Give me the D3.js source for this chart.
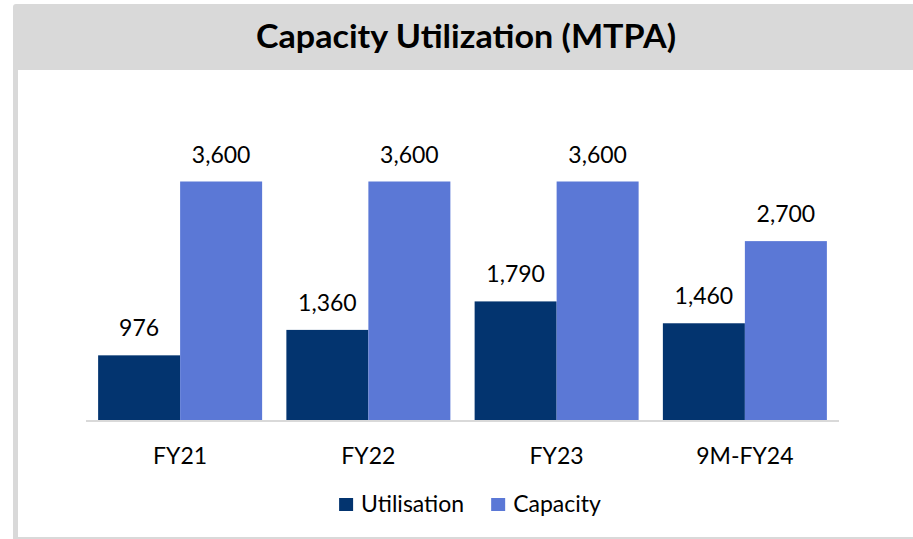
<!DOCTYPE html>
<html>
<head>
<meta charset="utf-8">
<script src="https://cdn.jsdelivr.net/npm/d3@7"></script>
<style>
  body { margin: 0; background: #fff; }
  text { font-family: Lato, "Open Sans", sans-serif; fill: #000; }
</style>
</head>
<body>
<div id="chart"></div>
<script>
const w = 913;
const h = 539;
const categories = ["FY21", "FY22", "FY23", "9M-FY24"];
const seriesNames = ["Utilisation", "Capacity"];
const utilisation = [976, 1360, 1790, 1460];
const capacity = [3600, 3600, 3600, 2700];
const colors = ["#03346f", "#5b78d6"];
const title = "Capacity Utilization (MTPA)";

const baseY = 420;

let svg = d3.select("#chart")
    .append("svg")
    .attr("width", w)
    .attr("height", h);

// grey frame + header band
svg.append("rect")
    .attr("x", 13).attr("y", 4)
    .attr("width", 912).attr("height", 540)
    .attr("rx", 3)
    .attr("fill", "#d9d9d9");

svg.append("rect")
    .attr("x", 18).attr("y", 70)
    .attr("width", 900).attr("height", 467)
    .attr("fill", "#ffffff");

svg.append("text")
    .attr("x", 466)
    .attr("y", 47.5)
    .attr("text-anchor", "middle")
    .style("font-size", "32px")
    .style("font-weight", "bold")
    .attr("textLength", 420)
    .attr("lengthAdjust", "spacingAndGlyphs")
    .text(title);

var x = d3.scaleBand()
    .domain(categories)
    .range([86, 839])
    .paddingInner(0.1288)
    .paddingOuter(0.0644);

var xInner = d3.scaleBand()
    .domain(seriesNames)
    .range([0, x.bandwidth()]);

var y = d3.scaleLinear()
    .domain([0, 4000])
    .range([baseY, 155]);

const rows = categories.map((c, i) => ({
    cat: c,
    vals: [utilisation[i], capacity[i]]
}));

const groups = svg.selectAll(".grp")
    .data(rows)
    .enter().append("g")
    .attr("class", "grp")
    .attr("transform", d => "translate(" + x(d.cat) + ",0)");

groups.selectAll("rect")
    .data(d => d.vals.map((v, j) => ({ name: seriesNames[j], v: v, j: j })))
    .enter().append("rect")
    .attr("x", d => xInner(d.name))
    .attr("y", d => y(d.v))
    .attr("width", xInner.bandwidth())
    .attr("height", d => y(0) - y(d.v))
    .attr("fill", d => colors[d.j]);

groups.selectAll(".val")
    .data(d => d.vals.map((v, j) => ({ name: seriesNames[j], v: v, j: j })))
    .enter().append("text")
    .attr("class", "val")
    .attr("x", d => xInner(d.name) + xInner.bandwidth() / 2)
    .attr("y", d => y(d.v) - 19)
    .attr("text-anchor", "middle")
    .style("font-size", "23px")
    .text(d => d3.format(",")(d.v));

// baseline
svg.append("line")
    .attr("x1", 86).attr("x2", 839)
    .attr("y1", baseY + 1).attr("y2", baseY + 1)
    .attr("stroke", "#d9d9d9")
    .attr("stroke-width", 2);

// category labels
svg.selectAll(".cat")
    .data(categories)
    .enter().append("text")
    .attr("class", "cat")
    .attr("x", d => x(d) + x.bandwidth() / 2)
    .attr("y", 464)
    .attr("text-anchor", "middle")
    .style("font-size", "23px")
    .text(d => d);

// legend
const legend = svg.append("g");
let lx = 0;
seriesNames.forEach((name, i) => {
    legend.append("rect")
        .attr("x", lx).attr("y", 498)
        .attr("width", 14).attr("height", 13)
        .attr("fill", colors[i]);
    let t = legend.append("text")
        .attr("x", lx + 22)
        .attr("y", 511.5)
        .style("font-size", "23px")
        .text(name);
    lx += 22 + t.node().getComputedTextLength() + 27;
});
const lw = lx - 27;
legend.attr("transform", "translate(" + (470 - lw / 2) + ",0)");
</script>
</body>
</html>
